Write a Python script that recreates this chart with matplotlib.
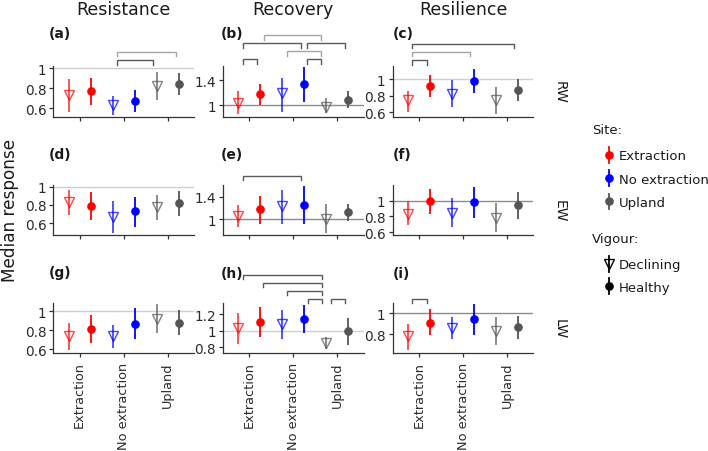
import matplotlib
matplotlib.use('Agg')
import matplotlib.pyplot as plt
from matplotlib.lines import Line2D
from matplotlib.legend_handler import HandlerBase
from matplotlib.ticker import FuncFormatter

plt.rcParams['font.family'] = ['DejaVu Sans']

# ---------------- data ----------------
sites = ['Extraction', 'No extraction', 'Upland']
vigours = ['Declining', 'Healthy']
metrics = ['Resistance', 'Recovery', 'Resilience']
wood = ['RW', 'EW', 'LW']
letters = ['a', 'b', 'c', 'd', 'e', 'f', 'g', 'h', 'i']

# order of points in each panel: Extraction-D, Extraction-H, NoExt-D, NoExt-H, Upland-D, Upland-H
a_med = [0.73, 0.77, 0.63, 0.675, 0.82, 0.84]
a_lo = [0.565, 0.63, 0.53, 0.56, 0.68, 0.73]
a_hi = [0.89, 0.905, 0.72, 0.785, 0.965, 0.953]

b_med = [1.04, 1.18, 1.19, 1.335, 0.97, 1.09]
b_lo = [0.865, 1.0, 0.9, 1.06, 0.87, 0.95]
b_hi = [1.23, 1.34, 1.44, 1.62, 1.11, 1.23]

c_med = [0.745, 0.92, 0.82, 0.98, 0.745, 0.875]
c_lo = [0.61, 0.78, 0.66, 0.83, 0.58, 0.74]
c_hi = [0.86, 1.05, 0.99, 1.125, 0.91, 1.0]

d_med = [0.83, 0.79, 0.665, 0.73, 0.775, 0.82]
d_lo = [0.69, 0.64, 0.495, 0.56, 0.64, 0.68]
d_hi = [0.964, 0.94, 0.84, 0.89, 0.91, 0.95]

e_med = [1.06, 1.18, 1.23, 1.26, 1.0, 1.13]
e_lo = [0.86, 0.92, 0.92, 0.92, 0.75, 0.97]
e_hi = [1.25, 1.42, 1.53, 1.59, 1.27, 1.27]

f_med = [0.83, 0.99, 0.84, 0.98, 0.78, 0.94]
f_lo = [0.69, 0.825, 0.67, 0.78, 0.6, 0.76]
f_hi = [0.99, 1.15, 1.03, 1.175, 0.97, 1.11]

g_med = [0.74, 0.81, 0.74, 0.87, 0.92, 0.88]
g_lo = [0.59, 0.665, 0.615, 0.71, 0.77, 0.75]
g_hi = [0.88, 0.96, 0.855, 1.035, 1.07, 1.01]

h_med = [1.03, 1.11, 1.085, 1.14, 0.855, 1.0]
h_lo = [0.845, 0.93, 0.9, 0.975, 0.775, 0.83]
h_hi = [1.21, 1.28, 1.25, 1.31, 0.93, 1.15]

i_med = [0.78, 0.91, 0.86, 0.94, 0.83, 0.865]
i_lo = [0.65, 0.79, 0.75, 0.79, 0.70, 0.75]
i_hi = [0.90, 1.035, 0.96, 1.085, 0.96, 0.97]

medians = dict(a=a_med, b=b_med, c=c_med, d=d_med, e=e_med, f=f_med, g=g_med, h=h_med, i=i_med)
lowers = dict(a=a_lo, b=b_lo, c=c_lo, d=d_lo, e=e_lo, f=f_lo, g=g_lo, h=h_lo, i=i_lo)
uppers = dict(a=a_hi, b=b_hi, c=c_hi, d=d_hi, e=e_hi, f=f_hi, g=g_hi, h=h_hi, i=i_hi)

y_ticks = dict(a=[0.6, 0.8, 1], b=[1, 1.4], c=[0.6, 0.8, 1],
               d=[0.6, 0.8, 1], e=[1, 1.4], f=[0.6, 0.8, 1],
               g=[0.6, 0.8, 1], h=[0.8, 1, 1.2], i=[0.8, 1])
y_limits = dict(a=(0.515, 1.025), b=(0.82, 1.63), c=(0.55, 1.157),
                d=(0.47, 1.02), e=(0.71, 1.62), f=(0.56, 1.2),
                g=(0.56, 1.09), h=(0.73, 1.34), i=(0.62, 1.1))

# significance brackets: (x start, x end, height above panel in px, shade)
brackets = dict(
    a=[(1.84, 3.18, 14, 'light'), (1.84, 2.66, 6, 'dark')],
    b=[(1.33, 2.645, 31, 'light'), (0.85, 2.175, 23, 'dark'), (2.32, 3.175, 23, 'dark'),
       (1.86, 2.645, 15, 'light'), (0.85, 1.18, 7, 'dark'), (2.32, 2.645, 7, 'dark')],
    c=[(0.83, 3.17, 22, 'dark'), (0.83, 2.16, 14, 'light'), (0.83, 1.175, 6, 'dark')],
    d=[], e=[(0.85, 2.175, 9, 'dark')], f=[], g=[],
    h=[(0.85, 2.66, 28, 'dark'), (1.32, 2.66, 20, 'dark'), (1.86, 2.66, 12, 'dark'),
       (2.34, 2.66, 4, 'dark'), (2.85, 3.18, 4, 'dark')],
    i=[(0.85, 1.18, 4, 'dark')],
)
ref_shade = dict(a='light', b='dark', c='light', d='light', e='dark', f='dark',
                 g='light', h='light', i='dark')

# ---------------- style ----------------
site_colors = ['#ff0000', '#0000ff', '#555555']
shade_col = {'light': '#a6a6a6', 'dark': '#595959'}
ref_col = {'light': '#cfcfcf', 'dark': '#8c8c8c'}
dodge = 0.25
decl_alpha = 0.72

W, H = 708, 452
fig = plt.figure(figsize=(W / 100, H / 100), dpi=100)

col_left = [53.3, 222.7, 392.6]
row_top = [67.0, 185.7, 303.5]
ax_w, ax_h = 140.8, 50.6
letter_x = [49, 221, 392.5]
letter_y = [33.5, 155, 273.5]

fmt = FuncFormatter(lambda v, p: '%g' % v)

for r in range(3):
    for c in range(3):
        key = letters[r * 3 + c]
        ax = fig.add_axes([col_left[c] / W, 1 - (row_top[r] + ax_h) / H, ax_w / W, ax_h / H])
        ax.set_xlim(0.4, 3.6)
        ax.set_ylim(*y_limits[key])
        ax.axhline(1, color=ref_col[ref_shade[key]], lw=1.0, zorder=1)
        med, lo, hi = medians[key], lowers[key], uppers[key]
        for k in range(6):
            s, v = k // 2, k % 2
            x = s + 1 + (dodge if v == 1 else -dodge)
            col = site_colors[s]
            if v == 0:
                ax.plot([x, x], [lo[k], hi[k]], color=col, lw=1.3, alpha=decl_alpha,
                        solid_capstyle='butt', zorder=2)
                ax.plot([x], [med[k]], marker='v', markersize=7.4, markerfacecolor='none',
                        markeredgecolor=col, markeredgewidth=1.0, alpha=decl_alpha,
                        linestyle='none', zorder=3)
            else:
                ax.plot([x, x], [lo[k], hi[k]], color=col, lw=1.3,
                        solid_capstyle='butt', zorder=2)
                ax.plot([x], [med[k]], marker='o', markersize=5.2, color=col,
                        linestyle='none', zorder=3)
        for sp in ['top', 'right']:
            ax.spines[sp].set_visible(False)
        for sp in ['left', 'bottom']:
            ax.spines[sp].set_color('#333333')
            ax.spines[sp].set_linewidth(0.9)
        ax.set_xticks([1, 2, 3])
        if r == 2:
            ax.set_xticklabels(sites, rotation=90)
        else:
            ax.set_xticklabels([])
        ax.set_yticks(y_ticks[key])
        ax.yaxis.set_major_formatter(fmt)
        ax.tick_params(length=3, width=0.9, color='#333333', labelsize=9.8,
                       labelcolor='#2b2b2b', pad=2)
        ax.tick_params(axis='x', pad=3.0, labelsize=9.3)
        tr = ax.get_xaxis_transform()
        for (x1, x2, off, shade) in brackets[key]:
            yb = 1 + off / ax_h
            yd = 1 + (off - 4.5) / ax_h
            ax.plot([x1, x1, x2, x2], [yd, yb, yb, yd], transform=tr, color=shade_col[shade],
                    lw=1.0, clip_on=False, solid_joinstyle='miter')
        fig.text(letter_x[c] / W, 1 - letter_y[r] / H, '(%s)' % key, fontsize=10,
                 fontweight='bold', ha='left', va='center', color='#1a1a1a')

# column titles
for c in range(3):
    fig.text((col_left[c] + ax_w / 2) / W, 1 - 15 / H, metrics[c], fontsize=12.5,
             ha='center', va='baseline', color='#1a1a1a')
# row strip labels
for r in range(3):
    fig.text(560 / W, 1 - (row_top[r] + ax_h / 2) / H, wood[r], fontsize=10,
             rotation=-90, ha='center', va='center', color='#1a1a1a')
# y label
fig.text(10 / W, 1 - 210 / H, 'Median response', fontsize=12.2, rotation=90,
         ha='center', va='center', color='#1a1a1a')


# ---------------- legends ----------------
class PointRange(HandlerBase):
    def create_artists(self, legend, orig_handle, xdescent, ydescent, width, height,
                       fontsize, trans):
        cx = width / 2 - xdescent
        cy = height / 2 - ydescent
        line = Line2D([cx, cx], [cy - 0.85 * height, cy + 0.85 * height],
                      color=orig_handle.get_markeredgecolor(), lw=1.3)
        mk = Line2D([cx], [cy], marker=orig_handle.get_marker(),
                    markersize=orig_handle.get_markersize(),
                    markerfacecolor=orig_handle.get_markerfacecolor(),
                    markeredgecolor=orig_handle.get_markeredgecolor(),
                    markeredgewidth=orig_handle.get_markeredgewidth(), linestyle='none')
        line.set_transform(trans)
        mk.set_transform(trans)
        return [line, mk]


site_handles = [Line2D([], [], marker='o', markersize=5.2, markerfacecolor=col,
                       markeredgecolor=col, linestyle='none') for col in site_colors]
vig_handles = [Line2D([], [], marker='v', markersize=7.4, markerfacecolor='none',
                      markeredgecolor='black', markeredgewidth=1.0, linestyle='none'),
               Line2D([], [], marker='o', markersize=5.2, markerfacecolor='black',
                      markeredgecolor='black', linestyle='none')]

common = dict(loc='upper left', bbox_transform=fig.transFigure, frameon=False,
              handler_map={Line2D: PointRange()}, handlelength=0.8, handletextpad=0.35,
              borderpad=0, borderaxespad=0, fontsize=9.5)
leg1 = fig.legend(site_handles, sites, bbox_to_anchor=(604 / W, 1 - 150.5 / H),
                  labelspacing=0.78, **common)
leg2 = fig.legend(vig_handles, vigours, bbox_to_anchor=(604 / W, 1 - 259.5 / H),
                  labelspacing=0.7, **common)
for leg in (leg1, leg2):
    for t in leg.get_texts():
        t.set_color('#1a1a1a')
fig.text(591.7 / W, 1 - 130 / H, 'Site:', fontsize=9.5, ha='left', va='center', color='#1a1a1a')
fig.text(591.7 / W, 1 - 240 / H, 'Vigour:', fontsize=9.5, ha='left', va='center', color='#1a1a1a')

fig.savefig('out.png', dpi=100)
